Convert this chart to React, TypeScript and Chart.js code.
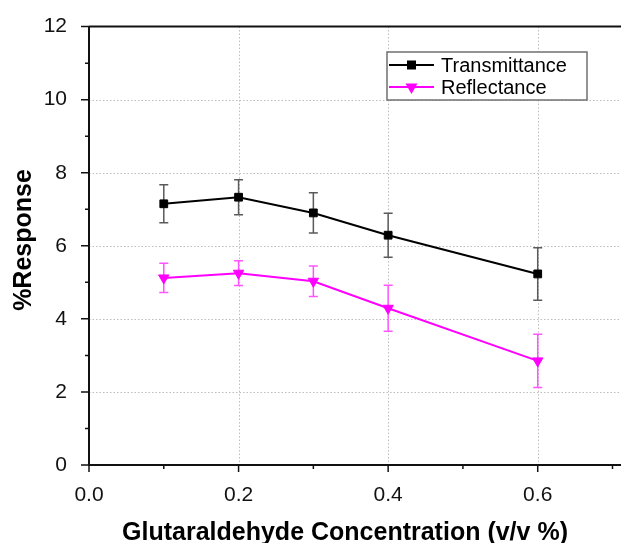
import React, { useEffect, useRef } from "react";
import { Chart, registerables } from "chart.js";

Chart.register(...registerables);

// Glutaraldehyde concentration (v/v %)
const concentrations = [0.1, 0.2, 0.3, 0.4, 0.6];
// % response with standard deviation
const transmittance = [7.15, 7.33, 6.9, 6.29, 5.23];
const transmittanceErr = [0.52, 0.48, 0.55, 0.6, 0.72];
const reflectance = [5.12, 5.25, 5.03, 4.29, 2.85];
const reflectanceErr = [0.4, 0.34, 0.42, 0.63, 0.73];

const seriesNames = ["Transmittance", "Reflectance"];
const xTitle = "Glutaraldehyde Concentration (v/v %)";
const yTitle = "%Response";

const FONT = "'Liberation Sans', Arial, sans-serif";
const BLACK = "#000000";
const MAGENTA = "#ff00ff";

const errorSets = [
  { values: transmittance, errs: transmittanceErr, color: "#5a5a5a" },
  { values: reflectance, errs: reflectanceErr, color: "#ff55ff" },
];

const framePlugin = {
  id: "frame",
  beforeDatasetsDraw(chart: any) {
    const { ctx, chartArea, scales } = chart;
    const xs = scales.x;
    const ys = scales.y;
    const { left, top, bottom } = chartArea;
    const right = chart.width;
    ctx.save();

    // dotted grid
    ctx.strokeStyle = "#bdbdbd";
    ctx.lineWidth = 1;
    ctx.setLineDash([1.5, 2]);
    [2, 4, 6, 8, 10].forEach((v) => {
      const y = Math.round(ys.getPixelForValue(v)) + 0.5;
      ctx.beginPath();
      ctx.moveTo(left, y);
      ctx.lineTo(right, y);
      ctx.stroke();
    });
    [0.2, 0.4, 0.6].forEach((v) => {
      const x = Math.round(xs.getPixelForValue(v)) + 0.5;
      ctx.beginPath();
      ctx.moveTo(x, top);
      ctx.lineTo(x, bottom);
      ctx.stroke();
    });
    ctx.setLineDash([]);

    // axes
    ctx.strokeStyle = "#111";
    ctx.lineWidth = 2;
    ctx.beginPath();
    ctx.moveTo(left, top);
    ctx.lineTo(right, top);
    ctx.moveTo(left, top);
    ctx.lineTo(left, bottom);
    ctx.lineTo(right, bottom);
    ctx.stroke();

    // tick marks
    ctx.lineWidth = 1.5;
    ctx.beginPath();
    for (let i = 0; i <= 7; i++) {
      const v = i / 10;
      const x = xs.getPixelForValue(v);
      if (x > right) break;
      const len = i % 2 === 0 ? 7 : 4;
      ctx.moveTo(x, bottom);
      ctx.lineTo(x, bottom + len);
    }
    for (let v = 0; v <= 12; v++) {
      const y = ys.getPixelForValue(v);
      const len = v % 2 === 0 ? 8 : 4;
      ctx.moveTo(left, y);
      ctx.lineTo(left - len, y);
    }
    ctx.stroke();

    // error bars
    ctx.lineWidth = 1.5;
    errorSets.forEach((s) => {
      ctx.strokeStyle = s.color;
      ctx.beginPath();
      s.values.forEach((v, i) => {
        const x = xs.getPixelForValue(concentrations[i]);
        const yt = ys.getPixelForValue(v + s.errs[i]);
        const yb = ys.getPixelForValue(v - s.errs[i]);
        ctx.moveTo(x, yt);
        ctx.lineTo(x, yb);
        ctx.moveTo(x - 4.5, yt);
        ctx.lineTo(x + 4.5, yt);
        ctx.moveTo(x - 4.5, yb);
        ctx.lineTo(x + 4.5, yb);
      });
      ctx.stroke();
    });
    ctx.restore();
  },
  afterDraw(chart: any) {
    const { ctx } = chart;
    ctx.save();

    // legend
    const bx = 387, by = 52, bw = 200, bh = 48;
    ctx.fillStyle = "#fff";
    ctx.fillRect(bx, by, bw, bh);
    ctx.strokeStyle = "#707070";
    ctx.lineWidth = 1.5;
    ctx.strokeRect(bx, by, bw, bh);

    const rows = [
      { y: 65, color: BLACK, marker: "square" },
      { y: 87, color: MAGENTA, marker: "tri" },
    ];
    rows.forEach((r, i) => {
      ctx.strokeStyle = r.color;
      ctx.lineWidth = 2;
      ctx.beginPath();
      ctx.moveTo(389, r.y);
      ctx.lineTo(434, r.y);
      ctx.stroke();
      ctx.fillStyle = r.color;
      const mx = 411.5;
      if (r.marker === "square") {
        ctx.fillRect(mx - 4.5, r.y - 4.5, 9, 9);
      } else {
        ctx.beginPath();
        ctx.moveTo(mx - 6, r.y - 3.5);
        ctx.lineTo(mx + 6, r.y - 3.5);
        ctx.lineTo(mx, r.y + 7);
        ctx.closePath();
        ctx.fill();
      }
      ctx.fillStyle = "#000";
      ctx.font = `20px ${FONT}`;
      ctx.textAlign = "left";
      ctx.textBaseline = "middle";
      ctx.fillText(seriesNames[i], 441, r.y + 1);
    });

    // axis titles
    ctx.fillStyle = "#000";
    ctx.font = `bold 25px ${FONT}`;
    ctx.textAlign = "center";
    ctx.textBaseline = "middle";
    ctx.fillText(xTitle, 345, 533);
    ctx.translate(24, 240);
    ctx.rotate(-Math.PI / 2);
    ctx.fillText(yTitle, 0, 0);
    ctx.restore();
  },
};

export default function App() {
  const ref = useRef<HTMLCanvasElement | null>(null);

  useEffect(() => {
    if (!ref.current) return;
    const chart = new Chart(ref.current, {
      type: "line",
      data: {
        datasets: [
          {
            label: seriesNames[0],
            data: concentrations.map((x, i) => ({ x, y: transmittance[i] })),
            borderColor: BLACK,
            backgroundColor: BLACK,
            borderWidth: 2,
            pointStyle: "rect",
            pointRadius: 5.5,
            pointBorderWidth: 1,
            pointBackgroundColor: BLACK,
            pointBorderColor: BLACK,
          },
          {
            label: seriesNames[1],
            data: concentrations.map((x, i) => ({ x, y: reflectance[i] })),
            borderColor: MAGENTA,
            backgroundColor: MAGENTA,
            borderWidth: 2,
            pointStyle: "triangle",
            rotation: 180,
            pointRadius: 6,
            pointBorderWidth: 1,
            pointBackgroundColor: MAGENTA,
            pointBorderColor: MAGENTA,
          },
        ],
      },
      options: {
        animation: false,
        responsive: false,
        maintainAspectRatio: false,
        layout: { padding: { top: 25, right: 0, left: 0, bottom: 0 } },
        plugins: { legend: { display: false }, tooltip: { enabled: false } },
        scales: {
          x: {
            type: "linear",
            min: 0,
            max: 0.702,
            grid: { display: false },
            border: { display: false },
            afterFit: (s: any) => {
              s.height = 78;
              s.paddingRight = 0;
              s.paddingLeft = 0;
            },
            ticks: {
              stepSize: 0.1,
              autoSkip: false,
              maxRotation: 0,
              padding: 10,
              color: "#111",
              font: { family: FONT, size: 21 },
              callback: (v: any) => {
                const n = Number(v);
                return Math.abs(n * 5 - Math.round(n * 5)) < 1e-6 ? n.toFixed(1) : "";
              },
            },
          },
          y: {
            min: 0,
            max: 12,
            grid: { display: false },
            border: { display: false },
            afterFit: (s: any) => {
              s.width = 89;
            },
            ticks: {
              stepSize: 2,
              padding: 14,
              color: "#111",
              font: { family: FONT, size: 21 },
            },
          },
        },
      },
      plugins: [framePlugin],
    });
    return () => chart.destroy();
  }, []);

  return (
    <div style={{ position: "fixed", left: 0, top: 0, width: 621, height: 543, background: "#fff" }}>
      <canvas ref={ref} width={621} height={543} />
    </div>
  );
}
